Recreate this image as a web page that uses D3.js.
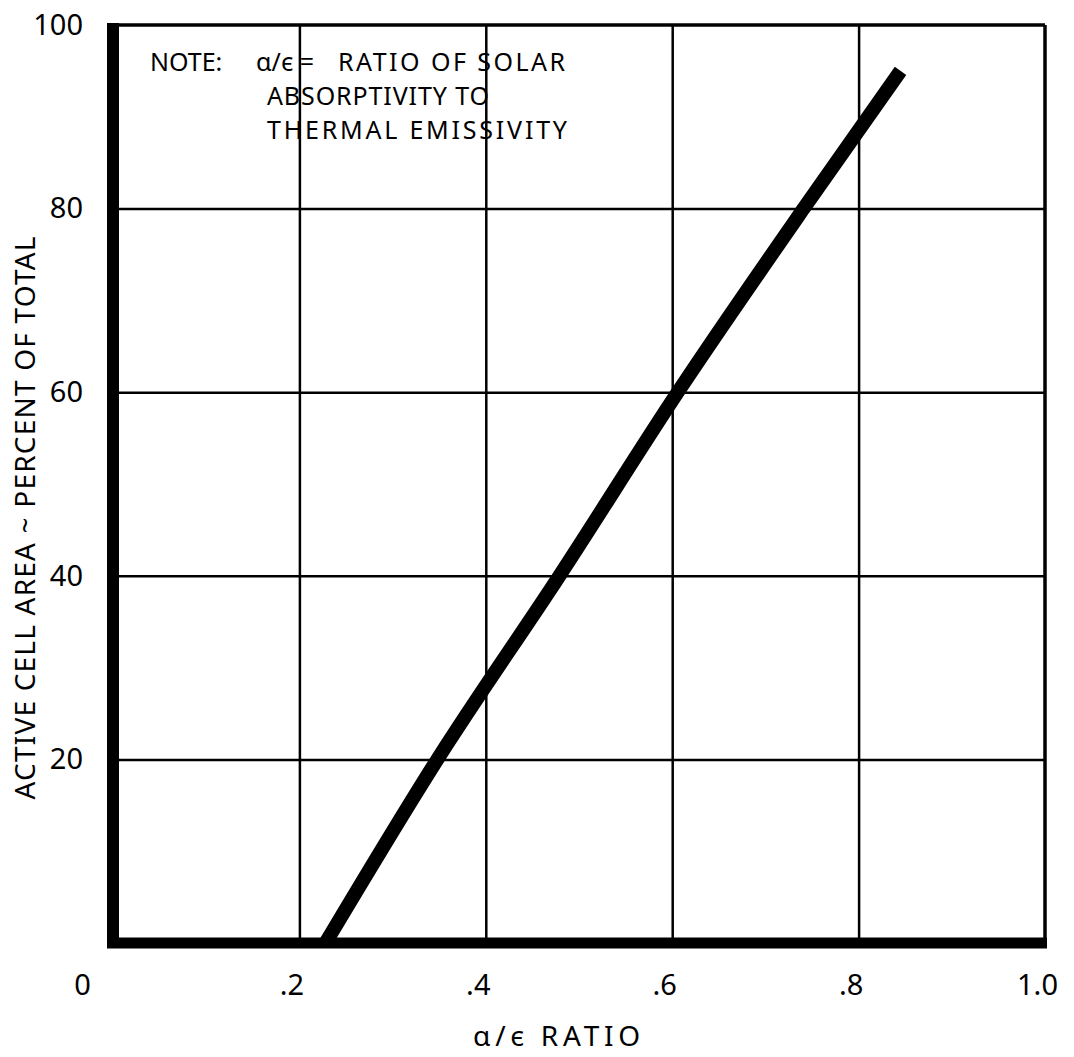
<!DOCTYPE html>
<html>
<head>
<meta charset="utf-8">
<script src="https://cdn.jsdelivr.net/npm/d3@7"></script>
<style>
  html, body { margin: 0; padding: 0; background: #fff; }
  svg text { font-family: 'Noto Sans', 'DejaVu Sans', sans-serif; fill: #000; }
</style>
</head>
<body>
<div id="chart"></div>
<script>
// data
const ratioX = [0.228, 0.348, 0.479, 0.606, 0.741, 0.845];
const areaY = [0, 20, 40, 60, 80, 95];
const xTicks = [0, 0.2, 0.4, 0.6, 0.8, 1.0];
const xTickLabels = ['0', '.2', '.4', '.6', '.8', '1.0'];
const yTicks = [20, 40, 60, 80, 100];

const W = 1074, H = 1057;
const m = { left: 113, right: 29, top: 25, bottom: 114 };
const width = W - m.left - m.right,
	height = H - m.top - m.bottom;

const x = d3.scaleLinear().domain([0, 1]).range([0, width]);
const y = d3.scaleLinear().domain([0, 100]).range([height, 0]);

const svg = d3.select('#chart').append('svg')
	.attr('width', W)
	.attr('height', H);

const g = svg.append('g')
	.attr('transform', 'translate(' + m.left + ',' + m.top + ')');

// grid from axes
const xGrid = d3.axisBottom(x).tickValues(xTicks.slice(1, -1)).tickSize(-height).tickFormat('');
const yGrid = d3.axisLeft(y).tickValues(yTicks.slice(0, -1)).tickSize(-width).tickFormat('');

g.append('g')
	.attr('transform', 'translate(0,' + height + ')')
	.call(xGrid)
	.call(a => a.select('.domain').remove())
	.call(a => a.selectAll('line').attr('stroke', '#000').attr('stroke-width', 2.5));

g.append('g')
	.call(yGrid)
	.call(a => a.select('.domain').remove())
	.call(a => a.selectAll('line').attr('stroke', '#000').attr('stroke-width', 2.5));

// frame: thin top/right, heavy left/bottom
g.append('line').attr('x1', x(0)).attr('x2', x(1)).attr('y1', y(100)).attr('y2', y(100))
	.attr('stroke', '#000').attr('stroke-width', 3.5);
g.append('line').attr('x1', x(1)).attr('x2', x(1)).attr('y1', y(100)).attr('y2', y(0))
	.attr('stroke', '#000').attr('stroke-width', 3.5);
g.append('line').attr('x1', x(0)).attr('x2', x(0)).attr('y1', y(100) - 2).attr('y2', y(0) + 5)
	.attr('stroke', '#000').attr('stroke-width', 12);
g.append('line').attr('x1', x(0) - 6).attr('x2', x(1) + 2).attr('y1', y(0)).attr('y2', y(0))
	.attr('stroke', '#000').attr('stroke-width', 11);

// tick labels
const xAxis = d3.axisBottom(x).tickValues(xTicks).tickSize(0).tickPadding(0)
	.tickFormat((d, i) => xTickLabels[i]);
g.append('g')
	.attr('transform', 'translate(0,' + height + ')')
	.call(xAxis)
	.call(a => a.select('.domain').remove())
	.call(a => a.selectAll('text')
		.attr('y', 42).attr('dy', '0.35em')
		.attr('dx', (d, i) => i === 0 ? -31 : -8)
		.style('font-size', '29px'));

const yAxis = d3.axisLeft(y).tickValues(yTicks).tickSize(0).tickPadding(30);
g.append('g')
	.call(yAxis)
	.call(a => a.select('.domain').remove())
	.call(a => a.selectAll('text').style('font-size', '29px'));

// curve
const line = d3.line()
	.x((d, i) => x(ratioX[i]))
	.y(d => y(d))
	.curve(d3.curveMonotoneX);

g.append('path')
	.datum(areaY)
	.attr('d', line)
	.attr('fill', 'none')
	.attr('stroke', '#000')
	.attr('stroke-width', 14);

// note
const note = svg.append('g').style('font-size', '25px');
note.append('text').attr('x', 150).attr('y', 71).text('NOTE:');
note.append('text').attr('x', 256).attr('y', 71).text('\u03b1/\u03f5 =');
note.append('text').attr('x', 338).attr('y', 71).attr('textLength', 227).text('RATIO OF SOLAR');
note.append('text').attr('x', 267).attr('y', 105).attr('textLength', 222).text('ABSORPTIVITY TO');
note.append('text').attr('x', 267).attr('y', 139).attr('textLength', 300).text('THERMAL EMISSIVITY');

// axis titles
svg.append('text')
	.attr('x', 473).attr('y', 1046)
	.attr('textLength', 167)
	.style('font-size', '28px')
	.text('\u03b1/\u03f5  RATIO');

svg.append('text')
	.attr('transform', 'translate(35,518) rotate(-90)')
	.attr('text-anchor', 'middle')
	.attr('textLength', 563)
	.style('font-size', '28px')
	.text('ACTIVE CELL AREA ~ PERCENT OF TOTAL');
</script>
</body>
</html>
